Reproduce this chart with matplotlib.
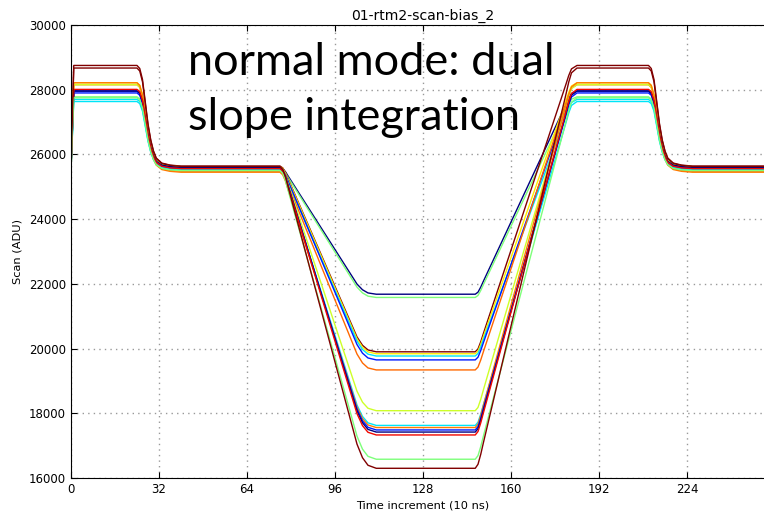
import numpy as np
import matplotlib
matplotlib.use("Agg")
import matplotlib.pyplot as plt
from matplotlib import cm

# ---- per-trace levels (ADU) ----
trace_color = [0.00, 0.50, 1.00, 0.66, 0.35, 0.15, 0.80,
               0.60, 0.35, 0.78, 0.15, 0.00, 0.90, 0.50, 1.00]
high_level = [27960, 27780, 28750, 28215, 27700, 27960, 28155,
              28155, 27635, 28215, 27900, 27960, 28010, 27750, 28670]
base_level = [25600, 25560, 25640, 25620, 25530, 25580, 25480,
              25600, 25520, 25450, 25570, 25600, 25560, 25500, 25630]
low_level = [21680, 21580, 19900, 19840, 19770, 19650, 19340,
             18080, 17625, 17560, 17485, 17420, 17330, 16580, 16300]

# ---- shared timing of the integration cycle (10 ns steps) ----
# each knot: sample index, which two levels it blends, blend fraction
knot_x = [0, 1, 24, 25, 26, 27, 28, 29, 30, 31, 33, 36, 40,
          76, 77, 78, 79, 104, 106, 108, 111,
          147, 148, 149, 150, 180, 181, 182, 184,
          210, 211, 212, 213, 214, 215, 216, 217, 219, 222, 226, 255]
knot_from = ["base", "high", "base", "base", "base", "base", "base", "base", "base", "base", "base", "base", "base",
             "base", "base", "base", "base", "base", "base", "base", "base",
             "low", "low", "low", "low", "low", "low", "low", "low",
             "base", "base", "base", "base", "base", "base", "base", "base", "base", "base", "base", "base"]
knot_to = ["base", "high", "high", "high", "high", "high", "high", "high", "high", "high", "high", "high", "high",
           "low", "low", "low", "low", "low", "low", "low", "low",
           "high", "high", "high", "high", "high", "high", "high", "high",
           "high", "high", "high", "high", "high", "high", "high", "high", "high", "high", "high", "high"]
knot_frac = [0.0, 1.0, 1.0, 0.97, 0.86, 0.64, 0.42, 0.26, 0.15, 0.08, 0.03, 0.01, 0.0,
             0.0, 0.01, 0.035, 0.07, 0.92, 0.965, 0.99, 1.0,
             0.0, 0.01, 0.035, 0.065, 0.935, 0.965, 0.988, 1.0,
             1.0, 0.97, 0.86, 0.64, 0.42, 0.26, 0.15, 0.08, 0.03, 0.01, 0.0, 0.0]

title = "01-rtm2-scan-bias_2"
x_ticks = [0, 32, 64, 96, 128, 160, 192, 224]
y_ticks = [16000, 18000, 20000, 22000, 24000, 26000, 28000, 30000]

fig = plt.figure(figsize=(7.64, 5.13), dpi=100)
fig.patch.set_facecolor("white")
W, H = 764, 513
ax = fig.add_axes([71 / W, (H - 478) / H, (775 - 71) / W, 453 / H])

for i in range(len(low_level)):
    levels = {"high": high_level[i], "base": base_level[i], "low": low_level[i]}
    ys = [levels[a] + f * (levels[b] - levels[a])
          for a, b, f in zip(knot_from, knot_to, knot_frac)]
    ax.plot(knot_x, ys, color=cm.jet(trace_color[i]), lw=1.0)

ax.set_xlim(0, 256)
ax.set_ylim(16000, 30000)
ax.set_xticks(x_ticks)
ax.set_yticks(y_ticks)
ax.grid(True, color="#999999", linestyle=(0, (1, 3)), lw=1.0)
ax.tick_params(direction="in", top=True, right=True, length=4, pad=3.5,
               labelsize=8.5)

ax.set_title(title, fontsize=10.1, pad=3.5)
ax.set_xlabel("Time increment (10 ns)", fontsize=8.2, labelpad=3.5)
ax.set_ylabel("Scan (ADU)", fontsize=8.2, labelpad=5)

ax.text(42.5, 28455, "normal mode: dual", family=["Lato", "DejaVu Sans"],
        fontsize=32.5, va="baseline", ha="left")
ax.text(42.5, 26755, "slope integration", family=["Lato", "DejaVu Sans"],
        fontsize=32.5, va="baseline", ha="left")

fig.savefig("out.png", dpi=100)
